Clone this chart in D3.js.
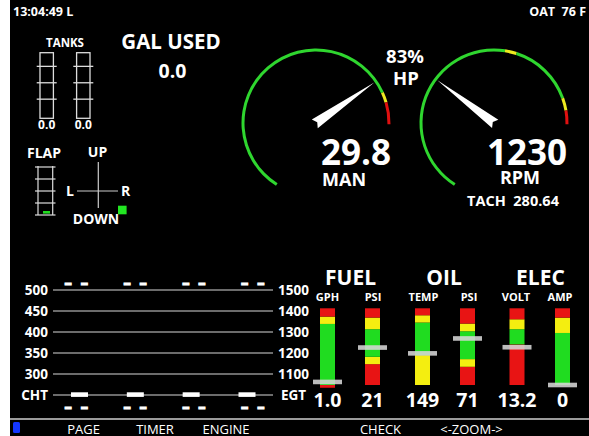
<!DOCTYPE html>
<html>
<head>
<meta charset="utf-8">
<script src="https://cdn.jsdelivr.net/npm/d3@7"></script>
<style>
  body { margin: 0; background: #fff; }
  svg { display: block; font-family: "Open Sans", sans-serif; }
  text { fill: #fff; }
</style>
</head>
<body>
<svg id="ems" width="589" height="436"></svg>
<script>
// ---- data ----
const clockText = "13:04:49 L";
const oatText = "OAT  76 F";

const tankNames = ["L", "R"];
const tankLevels = [0.0, 0.0];
const tankTicks = [7, 13, 19];
const galUsed = 0.0;

const flapTicks = [0, 10, 20, 30, 40];
const flapValue = 0;
const trimRoll = 1;     // full right
const trimPitch = -1;   // full down

const manValue = 29.8;
const manBands = [[10, 30.8, "green"], [30.8, 31.6, "yellow"], [31.6, 33.3, "red"]];
const rpmValue = 1230;
const rpmBands = [[0, 2030, "green"], [2030, 2150, "yellow"], [2150, 2830, "green"],
                  [2830, 2960, "yellow"], [2960, 3100, "red"]];
const hpPercent = 83;
const tachTime = 280.64;

const cylinders = [1, 2, 3, 4];
const chtTicks = [500, 450, 400, 350, 300];
const egtTicks = [1500, 1400, 1300, 1200, 1100];
const chtValues = [250, 250, 250, 250];
const egtReadouts = ["– –", "– –", "– –", "– –"];
const chtReadouts = ["– –", "– –", "– –", "– –"];

const barGroups = ["FUEL", "OIL", "ELEC"];
const barLabels = ["GPH", "PSI", "TEMP", "PSI", "VOLT", "AMP"];
const barValues = [1.0, 21, 149, 71, 13.2, 0];
const barFormats = [".1f", "d", "d", "d", ".1f", "d"];
const barDomains = [[0, 25], [0, 43], [50, 290], [0, 117], [10, 16.5], [0, 60]];
const barBands = [
  [[-0.9, 0, "red"], [0, 19.9, "green"], [19.9, 22.3, "yellow"], [22.3, 25, "red"]],
  [[0, 11.7, "red"], [11.7, 15.8, "yellow"], [15.8, 31.3, "green"], [31.3, 37.8, "yellow"], [37.8, 43, "red"]],
  [[50, 143.6, "yellow"], [143.6, 245.4, "green"], [245.4, 268.2, "yellow"], [268.2, 290, "red"]],
  [[0, 27.8, "red"], [27.8, 39.5, "yellow"], [39.5, 82, "green"], [82, 93.7, "yellow"], [93.7, 117, "red"]],
  [[10, 13.44, "red"], [13.44, 14.73, "green"], [14.73, 15.57, "yellow"], [15.57, 16.5, "red"]],
  [[0, 40.7, "green"], [40.7, 52.7, "yellow"], [52.7, 60, "red"]]
];

const menuItems = ["PAGE", "TIMER", "ENGINE", "CHECK", "<-ZOOM->"];

// ---- drawing ----
const colors = { green: "#20dc20", yellow: "#f4ee10", red: "#e81414" };
const arcColors = { green: "#2fd62f", yellow: "#eeea20", red: "#e01010" };
const rad = Math.PI / 180;

const svg = d3.select("#ems");
svg.append("rect").attr("x", 10).attr("y", 0).attr("width", 579).attr("height", 436).attr("fill", "#000");

// header
svg.append("text").attr("x", 13).attr("y", 16).attr("font-size", 12.5).attr("font-weight", 700)
  .text(clockText);
svg.append("text").attr("x", 586).attr("y", 16).attr("font-size", 12.5).attr("font-weight", 700)
  .attr("text-anchor", "end").style("white-space", "pre").text(oatText);

// tanks
const tankX = d3.scalePoint().domain(tankNames).range([46.7, 83.3]);
const tankY = d3.scaleLinear().domain([0, 24]).range([118.3, 52.7]);
svg.append("text").attr("x", 65).attr("y", 47).attr("text-anchor", "middle")
  .attr("font-size", 11.5).attr("font-weight", 700).text("TANKS");
const tank = svg.append("g").selectAll("g").data(tankNames).join("g")
  .attr("transform", d => `translate(${tankX(d)},0)`);
tank.append("rect").attr("x", -6.7).attr("y", tankY(24)).attr("width", 13.4)
  .attr("height", tankY(0) - tankY(24)).attr("fill", "none").attr("stroke", "#ddd").attr("stroke-width", 1.3);
tank.append("rect").attr("x", -6).attr("width", 12)
  .attr("y", (d, i) => tankY(tankLevels[i])).attr("height", (d, i) => tankY(0) - tankY(tankLevels[i]))
  .attr("fill", colors.green);
tank.selectAll("line").data(tankTicks).join("line")
  .attr("x1", -10).attr("x2", 10).attr("y1", d => tankY(d)).attr("y2", d => tankY(d))
  .attr("stroke", "#ddd").attr("stroke-width", 1.3);
tank.append("text").attr("y", 128.5).attr("text-anchor", "middle").attr("font-size", 12).attr("font-weight", 700)
  .text((d, i) => d3.format(".1f")(tankLevels[i]));

svg.append("text").attr("x", 171).attr("y", 48.5).attr("text-anchor", "middle")
  .attr("font-size", 20.5).attr("font-weight", 700).text("GAL USED");
svg.append("text").attr("x", 172.5).attr("y", 77.5).attr("text-anchor", "middle")
  .attr("font-size", 19.5).attr("font-weight", 700).text(d3.format(".1f")(galUsed));

// flaps
const flapY = d3.scaleLinear().domain([0, 40]).range([215, 167]);
svg.append("text").attr("x", 27).attr("y", 158).attr("font-size", 14).attr("font-weight", 700).text("FLAP");
const flap = svg.append("g");
[38, 52.7].forEach(x => flap.append("line").attr("x1", x).attr("x2", x).attr("y1", 166).attr("y2", 215)
  .attr("stroke", "#ddd").attr("stroke-width", 1.2));
flap.selectAll(".ft").data(flapTicks).join("line").attr("class", "ft")
  .attr("x1", 35).attr("x2", 55.5).attr("y1", d => flapY(d)).attr("y2", d => flapY(d))
  .attr("stroke", "#ddd").attr("stroke-width", 1.2);
flap.append("rect").attr("x", 43).attr("y", flapY(flapValue) - 4).attr("width", 7).attr("height", 2.6)
  .attr("fill", colors.green);

// trim
const trimX = d3.scaleLinear().domain([-1, 1]).range([74.3, 122.3]);
const trimY = d3.scaleLinear().domain([-1, 1]).range([210, 172]);
svg.append("line").attr("x1", 77).attr("x2", 118).attr("y1", 191).attr("y2", 191).attr("stroke", "#ccc").attr("stroke-width", 1.2);
svg.append("line").attr("x1", 98.3).attr("x2", 98.3).attr("y1", 162).attr("y2", 208).attr("stroke", "#ccc").attr("stroke-width", 1.2);
const trimLabels = [["UP", 97.5, 157], ["L", 70, 196], ["R", 125.5, 196], ["DOWN", 96, 224]];
svg.selectAll(".trl").data(trimLabels).join("text").attr("class", "trl")
  .attr("x", d => d[1]).attr("y", d => d[2]).attr("text-anchor", "middle")
  .attr("font-size", 14).attr("font-weight", 700).text(d => d[0]);
svg.append("rect").attr("x", trimX(trimRoll) - 4.3).attr("y", trimY(trimPitch) - 4.3)
  .attr("width", 8.6).attr("height", 8.6).attr("fill", "#22e622");

// round gauges
function gauge(cx, cy, domain, bands, value) {
  const ang = d3.scaleLinear().domain(domain).range([-147.5, 91]);
  const g = svg.append("g").attr("transform", `translate(${cx},${cy})`);
  const arc = d3.arc().innerRadius(71.5).outerRadius(74.5);
  g.selectAll("path.band").data(bands).join("path").attr("class", "band")
    .attr("d", d => arc({ startAngle: ang(d[0]) * rad, endAngle: ang(d[1]) * rad }))
    .attr("fill", d => arcColors[d[2]]);
  g.append("path").attr("d", "M0,-71 L5.2,1.5 L0,-1.5 L-5.2,1.5 Z")
    .attr("fill", "#fff").attr("transform", `rotate(${ang(value)})`);
  return g;
}
gauge(316, 123, [10, 33.3], manBands, manValue);
gauge(494, 123, [0, 3100], rpmBands, rpmValue);

svg.append("text").attr("x", 405).attr("y", 63).attr("text-anchor", "middle").attr("font-size", 18.5).attr("font-weight", 700).text(hpPercent + "%");
svg.append("text").attr("x", 406).attr("y", 85).attr("text-anchor", "middle").attr("font-size", 18.5).attr("font-weight", 700).text("HP");
svg.append("text").attr("x", 356).attr("y", 165).attr("text-anchor", "middle").attr("font-size", 35).attr("font-weight", 700).text(d3.format(".1f")(manValue));
svg.append("text").attr("x", 344).attr("y", 186).attr("text-anchor", "middle").attr("font-size", 18).attr("font-weight", 700).text("MAN");
svg.append("text").attr("x", 527).attr("y", 165).attr("text-anchor", "middle").attr("font-size", 35).attr("font-weight", 700).text(rpmValue);
svg.append("text").attr("x", 520).attr("y", 184).attr("text-anchor", "middle").attr("font-size", 18).attr("font-weight", 700).text("RPM");
svg.append("text").attr("x", 513).attr("y", 205.5).attr("text-anchor", "middle").attr("font-size", 14.5).attr("font-weight", 700)
  .style("white-space", "pre").text("TACH  " + d3.format(".2f")(tachTime));

// CHT / EGT
const chtY = d3.scaleLinear().domain([250, 500]).range([395, 290]);
const egtY = d3.scaleLinear().domain([1000, 1500]).range([395, 290]);
const cylX = d3.scalePoint().domain(cylinders).range([79.5, 247]);
const readX = d3.scalePoint().domain(cylinders).range([76, 252.5]);
const ce = svg.append("g");
ce.selectAll(".grid").data(chtTicks.concat([250])).join("line").attr("class", "grid")
  .attr("x1", 53).attr("x2", 273).attr("y1", d => chtY(d)).attr("y2", d => chtY(d))
  .attr("stroke", "#d8d8d8").attr("stroke-width", 1.1);
ce.selectAll(".cl").data(chtTicks).join("text").attr("class", "cl")
  .attr("x", 48).attr("y", d => chtY(d) + 4.5).attr("text-anchor", "end")
  .attr("font-size", 13.5).attr("font-weight", 700).text(d => d);
ce.selectAll(".el").data(egtTicks).join("text").attr("class", "el")
  .attr("x", 278).attr("y", d => egtY(d) + 4.5)
  .attr("font-size", 13.5).attr("font-weight", 700).text(d => d);
ce.append("text").attr("x", 48).attr("y", 399.5).attr("text-anchor", "end").attr("font-size", 13.5).attr("font-weight", 700).text("CHT");
ce.append("text").attr("x", 281).attr("y", 399.5).attr("font-size", 13.5).attr("font-weight", 700).text("EGT");
ce.selectAll(".cyl").data(cylinders).join("rect").attr("class", "cyl")
  .attr("x", d => cylX(d) - 8.5).attr("y", (d, i) => chtY(chtValues[i]) - 2.7)
  .attr("width", 17).attr("height", 4.6).attr("fill", "#fff");
function readouts(cls, y, labels) {
  ce.selectAll("." + cls).data(cylinders).join("text").attr("class", cls)
    .attr("x", d => readX(d) + 1).attr("y", y).attr("text-anchor", "middle")
    .attr("font-family", "DejaVu Sans").attr("font-size", 15.5).attr("font-weight", 700)
    .attr("letter-spacing", 1.5)
    .attr("stroke", "#fff").attr("stroke-width", 1.1)
    .style("white-space", "pre").text((d, i) => labels[i]);
}
readouts("egtr", 288.3, egtReadouts);
readouts("chtr", 411.5, chtReadouts);

// vertical bar gauges
const colX = [327.5, 372.5, 422.5, 467.5, 517, 562.5];
const groupX = [350.5, 444, 540.5];
svg.selectAll(".grp").data(barGroups).join("text").attr("class", "grp")
  .attr("x", (d, i) => groupX[i]).attr("y", 284.5).attr("text-anchor", "middle")
  .attr("font-size", 21).attr("font-weight", 700).text(d => d);
const labX = [327.5, 373, 423.5, 469, 516, 560];
svg.selectAll(".sub").data(barLabels).join("text").attr("class", "sub")
  .attr("x", (d, i) => labX[i]).attr("y", 300.5).attr("text-anchor", "middle")
  .attr("font-size", 11).attr("font-weight", 700).text(d => d);

barLabels.forEach((lab, i) => {
  const y = d3.scaleLinear().domain(barDomains[i]).range([385, 308.3]);
  const g = svg.append("g").attr("transform", `translate(${colX[i]},0)`);
  g.selectAll("rect.band").data(barBands[i]).join("rect").attr("class", "band")
    .attr("x", -7.5).attr("width", 15)
    .attr("y", d => y(d[1])).attr("height", d => y(d[0]) - y(d[1]))
    .attr("fill", d => colors[d[2]]);
  g.append("rect").attr("x", -14.5).attr("width", 29).attr("y", y(barValues[i]) - 2.3).attr("height", 4.6)
    .attr("fill", "#d6d6d6").attr("opacity", 0.88);
  g.append("text").attr("y", 406.5).attr("text-anchor", "middle")
    .attr("font-size", 19.5).attr("font-weight", 700).text(d3.format(barFormats[i])(barValues[i]));
});

// menu bar
svg.append("line").attr("x1", 10).attr("x2", 589).attr("y1", 419).attr("y2", 419).attr("stroke", "#cfcfcf").attr("stroke-width", 1.5);
svg.append("rect").attr("x", 13).attr("y", 422).attr("width", 7).attr("height", 11).attr("rx", 1.5).attr("fill", "#1436ff");
const menuX = [83.5, 155, 226, 380.5, 471.5];
svg.selectAll(".menu").data(menuItems).join("text").attr("class", "menu")
  .attr("x", (d, i) => menuX[i]).attr("y", 433.5).attr("text-anchor", "middle")
  .attr("font-size", 13).attr("font-weight", 500).text(d => d);
</script>
</body>
</html>
